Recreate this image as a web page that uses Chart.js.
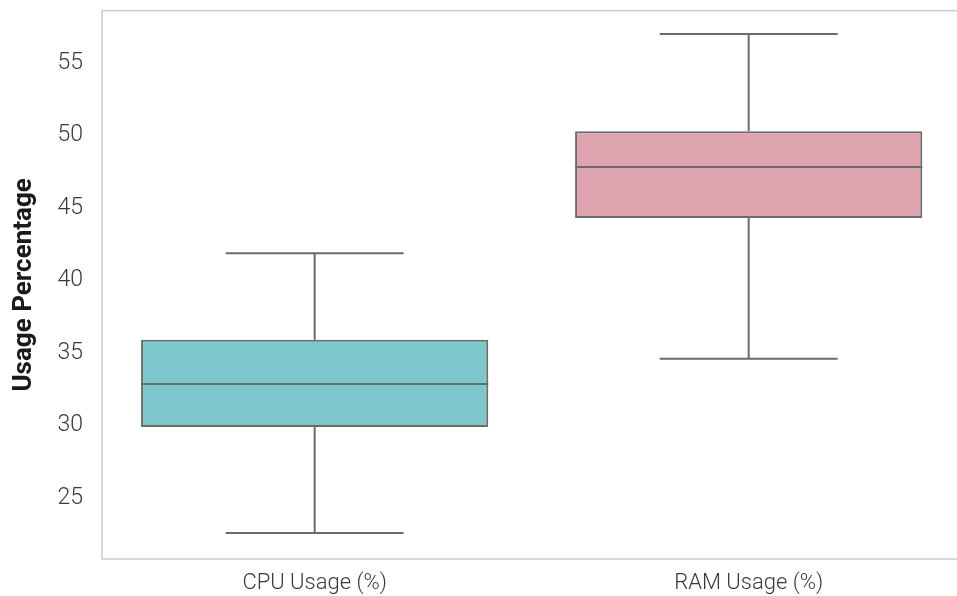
<!DOCTYPE html>
<html>
<head>
<meta charset="utf-8">
<script src="https://cdn.jsdelivr.net/npm/chart.js@4/dist/chart.umd.min.js"></script>
<style>
  html, body { margin: 0; padding: 0; background: #fff; }
  #wrap { width: 957px; height: 596px; }
</style>
</head>
<body>
<div id="wrap"><canvas id="box-chart"></canvas></div>
<script>
const categories = ['CPU Usage (%)', 'RAM Usage (%)'];
const whiskerLow = [22.57, 34.59];
const q1 = [29.88, 44.31];
const median = [32.86, 47.83];
const q3 = [35.9, 50.3];
const whiskerHigh = [41.88, 57.0];
const yTicks = [25, 30, 35, 40, 45, 50, 55];

const fills = ['#7ec8cd', '#dea4af'];
const lineGray = '#6b6b6b';

// whiskers, caps, medians and the frame, drawn through the chart scales
const boxExtras = {
    id: 'boxExtras',
    afterDatasetsDraw(chart) {
        const { ctx, scales: { x, y }, chartArea } = chart;
        ctx.save();
        ctx.strokeStyle = lineGray;
        ctx.lineWidth = 2;
        categories.forEach((c, i) => {
            const cx = x.getPixelForValue(i);
            const half = x.getPixelForValue(i + 0.4) - cx;
            const cap = x.getPixelForValue(i + 0.205) - cx;
            ctx.beginPath();
            ctx.moveTo(cx, y.getPixelForValue(q3[i]));
            ctx.lineTo(cx, y.getPixelForValue(whiskerHigh[i]));
            ctx.moveTo(cx, y.getPixelForValue(q1[i]));
            ctx.lineTo(cx, y.getPixelForValue(whiskerLow[i]));
            ctx.moveTo(cx - cap, y.getPixelForValue(whiskerHigh[i]));
            ctx.lineTo(cx + cap, y.getPixelForValue(whiskerHigh[i]));
            ctx.moveTo(cx - cap, y.getPixelForValue(whiskerLow[i]));
            ctx.lineTo(cx + cap, y.getPixelForValue(whiskerLow[i]));
            ctx.moveTo(cx - half, y.getPixelForValue(median[i]));
            ctx.lineTo(cx + half, y.getPixelForValue(median[i]));
            ctx.stroke();
        });
        ctx.strokeStyle = '#cccccc';
        ctx.lineWidth = 1.5;
        ctx.strokeRect(chartArea.left, chartArea.top, chartArea.right - chartArea.left + 2, chartArea.bottom - chartArea.top);
        ctx.restore();
    }
};

new Chart(document.getElementById('box-chart'), {
    type: 'bar',
    data: {
        datasets: [{
            data: categories.map((c, i) => ({ x: i, y: [q1[i], q3[i]] })),
            backgroundColor: fills,
            borderColor: lineGray,
            borderWidth: 2,
            borderSkipped: false,
            categoryPercentage: 1,
            barPercentage: 0.8
        }]
    },
    plugins: [boxExtras],
    options: {
        responsive: true,
        maintainAspectRatio: false,
        animation: false,
        layout: { padding: { top: 10.7, right: 0, left: 0, bottom: 0 } },
        plugins: {
            legend: { display: false },
            tooltip: { enabled: false }
        },
        scales: {
            x: {
                type: 'linear',
                min: -0.49,
                max: 1.48,
                offset: false,
                grid: { display: false, drawTicks: false },
                border: { display: false },
                afterBuildTicks: (s) => { s.ticks = categories.map((c, i) => ({ value: i })); },
                afterFit: (s) => { s.height = 37; s.paddingLeft = 0; s.paddingRight = 0; },
                ticks: {
                    callback: (v) => categories[v],
                    color: '#3a3a3a',
                    padding: 11,
                    font: { family: 'Roboto', size: 22, weight: 300 }
                }
            },
            y: {
                min: 20.78,
                max: 58.61,
                grid: { display: false, drawTicks: false },
                border: { display: false },
                afterBuildTicks: (s) => { s.ticks = yTicks.map(v => ({ value: v })); },
                afterFit: (s) => { s.width = 102; s.paddingTop = 0; s.paddingBottom = 0; },
                ticks: {
                    color: '#3a3a3a',
                    padding: 19,
                    font: { family: 'Roboto', size: 23, weight: 300 }
                },
                title: {
                    display: true,
                    text: 'Usage Percentage',
                    color: '#1a1a1a',
                    padding: { top: 9, bottom: 0 },
                    font: { family: 'Roboto', size: 26, weight: 'bold' }
                }
            }
        }
    }
});
</script>
</body>
</html>
